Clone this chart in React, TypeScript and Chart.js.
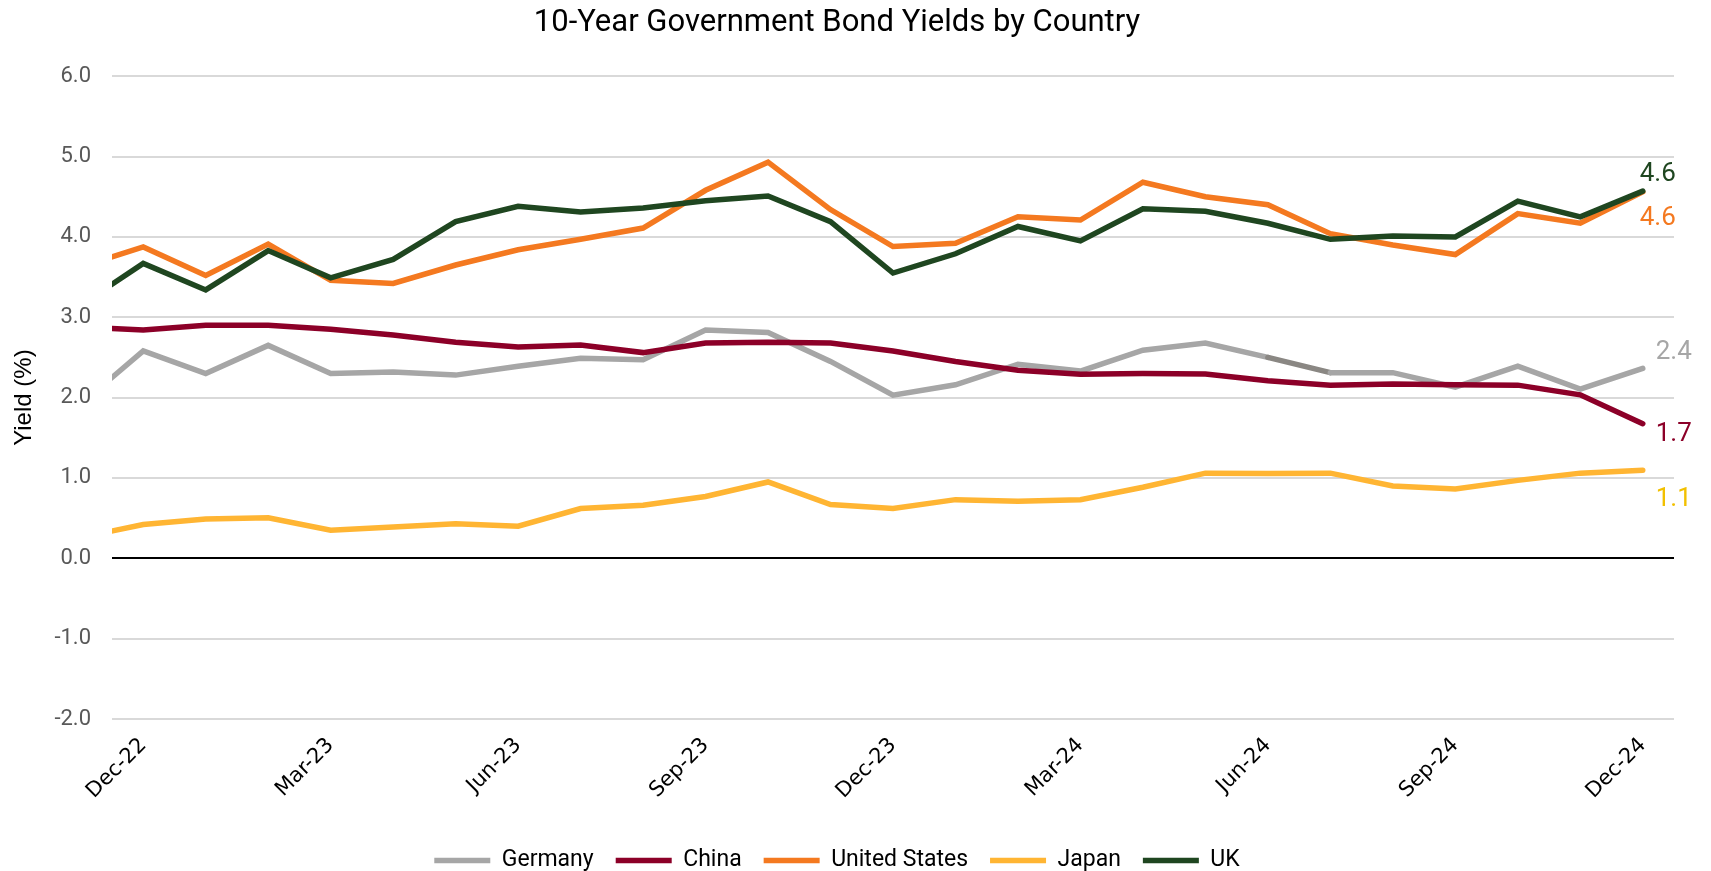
import React, { useEffect, useRef } from "react";
import { Chart, registerables } from "chart.js";

Chart.register(...registerables);

// ---------- DATA ----------
const months = [
  "Nov-22", "Dec-22", "Jan-23", "Feb-23", "Mar-23", "Apr-23", "May-23", "Jun-23", "Jul-23",
  "Aug-23", "Sep-23", "Oct-23", "Nov-23", "Dec-23", "Jan-24", "Feb-24", "Mar-24", "Apr-24",
  "May-24", "Jun-24", "Jul-24", "Aug-24", "Sep-24", "Oct-24", "Nov-24", "Dec-24",
];

const xTickLabels = ["Dec-22", "Mar-23", "Jun-23", "Sep-23", "Dec-23", "Mar-24", "Jun-24", "Sep-24", "Dec-24"];

const germany = [1.92, 2.58, 2.30, 2.65, 2.30, 2.32, 2.28, 2.39, 2.49, 2.47, 2.84, 2.81, 2.45, 2.03, 2.16, 2.415, 2.33, 2.59, 2.68, 2.50, 2.31, 2.31, 2.13, 2.39, 2.105, 2.365];
const china = [2.88, 2.84, 2.90, 2.90, 2.85, 2.78, 2.69, 2.63, 2.655, 2.56, 2.68, 2.69, 2.68, 2.58, 2.45, 2.34, 2.29, 2.30, 2.295, 2.21, 2.155, 2.17, 2.16, 2.155, 2.035, 1.675];
const unitedStates = [3.63, 3.875, 3.52, 3.91, 3.46, 3.42, 3.65, 3.84, 3.97, 4.11, 4.58, 4.93, 4.34, 3.88, 3.92, 4.25, 4.21, 4.68, 4.50, 4.40, 4.04, 3.90, 3.78, 4.29, 4.17, 4.56];
const japan = [0.26, 0.42, 0.49, 0.505, 0.35, 0.39, 0.43, 0.40, 0.62, 0.66, 0.77, 0.95, 0.67, 0.62, 0.73, 0.71, 0.73, 0.885, 1.06, 1.055, 1.06, 0.90, 0.864, 0.97, 1.06, 1.096];
const uk = [3.15, 3.67, 3.34, 3.83, 3.49, 3.72, 4.19, 4.38, 4.31, 4.36, 4.45, 4.51, 4.19, 3.55, 3.79, 4.13, 3.95, 4.35, 4.32, 4.17, 3.97, 4.01, 4.00, 4.445, 4.25, 4.57];

const seriesNames = ["Germany", "China", "United States", "Japan", "UK"];
const seriesValues = [germany, china, unitedStates, japan, uk];

// ---------- STYLE ----------
const lineColors = ["#a6a6a6", "#8c0028", "#f47920", "#ffb533", "#1f4620"];
const endLabelColors = ["#a6a6a6", "#8c0028", "#f47920", "#f2c000", "#1f4620"];
const endLabelOffsets = [
  { dx: 13, dy: -16 },
  { dx: 13, dy: 11 },
  { dx: -3, dy: 27 },
  { dx: 13, dy: 29 },
  { dx: -3, dy: -17 },
];
const germanyDarkSegment = months.indexOf("Jun-24");
const FONT = "Roboto, 'Noto Sans', sans-serif";

const endLabelPlugin = {
  id: "endLabels",
  afterDatasetsDraw(chart: any) {
    const ctx = chart.ctx;
    chart.data.datasets.forEach((ds: any, i: number) => {
      const meta = chart.getDatasetMeta(i);
      if (meta.hidden || !meta.data.length) return;
      const pt = meta.data[meta.data.length - 1];
      const v = ds.data[ds.data.length - 1].y;
      const off = endLabelOffsets[i];
      ctx.save();
      ctx.font = `26px ${FONT}`;
      ctx.fillStyle = endLabelColors[i];
      ctx.textAlign = "left";
      ctx.textBaseline = "middle";
      ctx.fillText(v.toFixed(1), pt.x + off.dx, pt.y + off.dy);
      ctx.restore();
    });
  },
};

export default function App() {
  const ref = useRef<HTMLCanvasElement>(null);

  useEffect(() => {
    document.body.style.margin = "0";
    document.body.style.overflow = "hidden";
    const base = months.indexOf("Dec-22");
    const toPoints = (vals: number[]) => vals.map((v, i) => ({ x: i - base, y: v }));
    const tickPositions = xTickLabels.map((l) => months.indexOf(l) - base);
    const lastX = months.length - 1 - base;

    const chart = new Chart(ref.current as HTMLCanvasElement, {
      type: "line",
      data: {
        datasets: seriesNames.map((name, k) => ({
          label: name,
          data: toPoints(seriesValues[k]),
          borderColor: lineColors[k],
          backgroundColor: lineColors[k],
          borderWidth: 5.5,
          pointRadius: 0,
          pointHoverRadius: 0,
          tension: 0,
          fill: false,
          borderCapStyle: "round",
          borderJoinStyle: "miter",
          clip: 0,
          order: seriesNames.length - k,
          segment:
            k === 0
              ? { borderColor: (c: any) => (c.p0DataIndex === germanyDarkSegment ? "#8a8783" : undefined) }
              : undefined,
        })) as any,
      },
      options: {
        animation: false,
        responsive: true,
        maintainAspectRatio: false,
        layout: { padding: { left: 0, right: 37, top: 0, bottom: -11 } },
        plugins: {
          title: {
            display: true,
            text: "10-Year Government Bond Yields by Country",
            color: "#000",
            font: { family: FONT, size: 31, weight: "normal" as any },
            padding: { top: 5, bottom: 34 },
          },
          legend: {
            position: "bottom",
            labels: {
              usePointStyle: true,
              pointStyle: "line",
              pointStyleWidth: 56,
              padding: 22,
              color: "#000",
              font: { family: FONT, size: 23 },
              sort: (a: any, b: any) => a.datasetIndex - b.datasetIndex,
            },
          },
          tooltip: { enabled: false },
        },
        scales: {
          x: {
            type: "linear",
            min: -0.5,
            max: lastX + 0.5,
            afterBuildTicks: (axis: any) => {
              axis.ticks = tickPositions.map((v) => ({ value: v }));
            },
            afterFit: (axis: any) => {
              axis.height = 108;
            },
            ticks: {
              autoSkip: false,
              maxRotation: 45,
              minRotation: 45,
              padding: 14,
              color: "#000",
              font: { family: "'DejaVu Sans', sans-serif", size: 21 },
              callback: (v: any) => months[Number(v) + base],
            },
            grid: { display: false, drawTicks: false },
            border: { display: false },
          },
          y: {
            min: -2,
            max: 6,
            afterFit: (axis: any) => {
              axis.width = 112;
            },
            ticks: {
              stepSize: 1,
              padding: 21,
              color: "#595959",
              font: { family: FONT, size: 22 },
              callback: (v: any) => Number(v).toFixed(1),
            },
            grid: {
              drawTicks: false,
              lineWidth: 2,
              color: (c: any) => (c.tick && c.tick.value === 0 ? "#000000" : "#d9d9d9"),
            },
            border: { display: false },
            title: {
              display: true,
              text: "Yield (%)",
              color: "#000",
              font: { family: "'Liberation Sans', Arial, sans-serif", size: 24 },
              padding: { top: 10, bottom: 0 },
            },
          },
        },
      },
      plugins: [endLabelPlugin],
    });
    return () => chart.destroy();
  }, []);

  return (
    <div style={{ width: "1711px", height: "871px", position: "relative" }}>
      <canvas ref={ref} />
    </div>
  );
}
